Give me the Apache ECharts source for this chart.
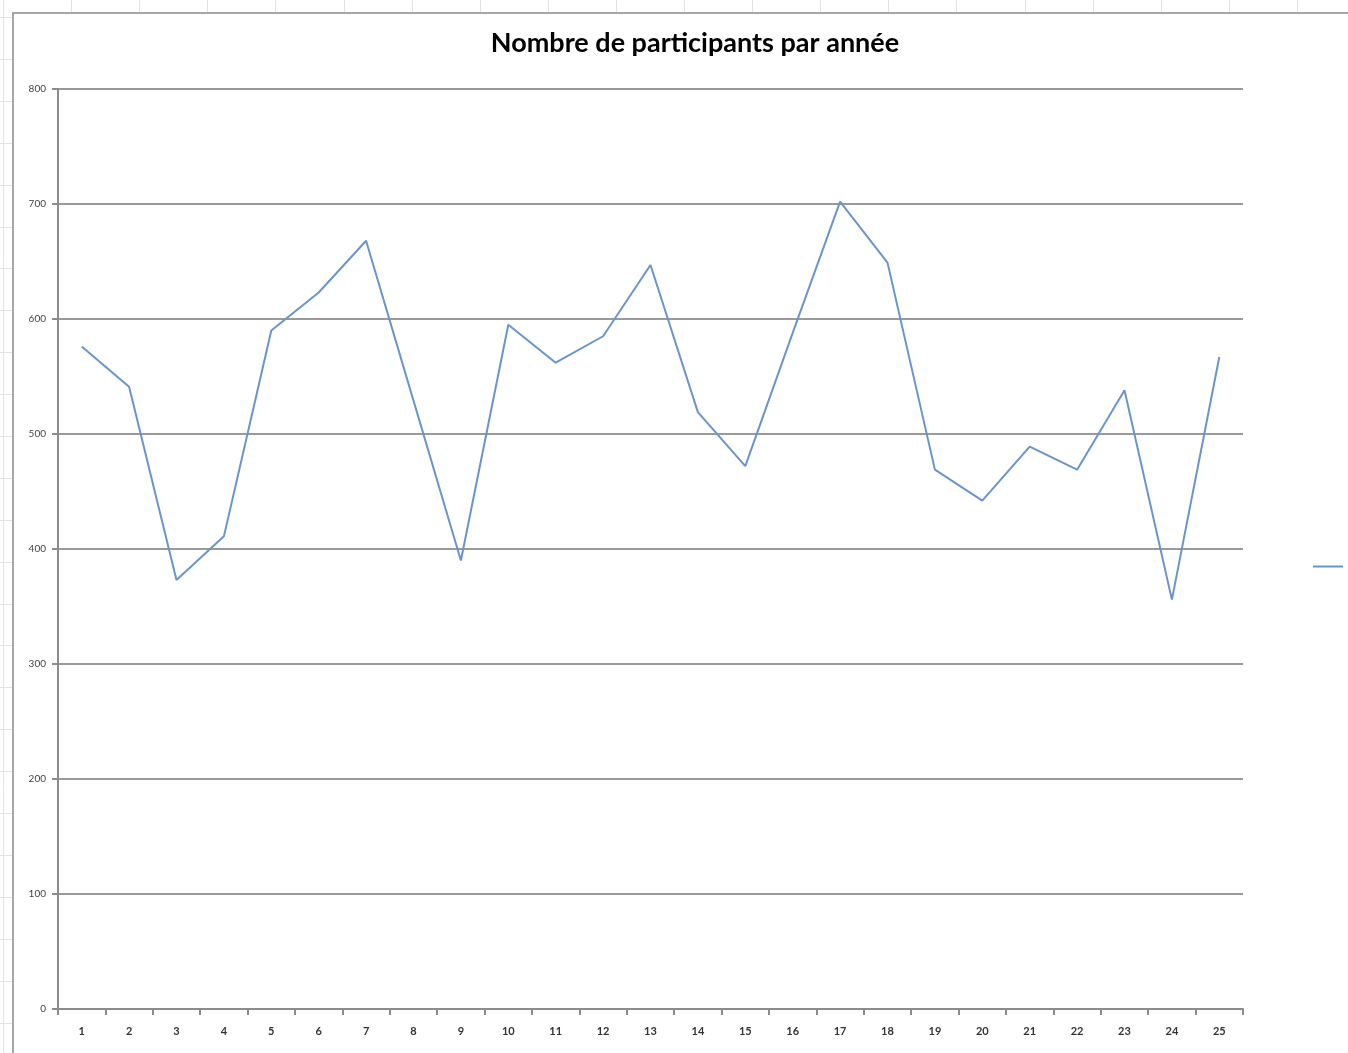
<!DOCTYPE html>
<html>
<head>
<meta charset="utf-8">
<script src="https://cdn.jsdelivr.net/npm/echarts@6/dist/echarts.min.js"></script>
<style>
html,body{margin:0;padding:0;background:#fff;}
#chart{width:1348px;height:1053px;}
</style>
</head>
<body>
<div id="chart"></div>
<script>
const titleText = "Nombre de participants par année";
const seriesName = "Série1";
const years = ["1","2","3","4","5","6","7","8","9","10","11","12","13","14","15","16","17","18","19","20","21","22","23","24","25"];
const participants = [576, 541, 373, 411, 590, 623, 668, 529, 390, 595, 562, 585, 647, 519, 472, 588, 702, 649, 469, 442, 489, 469, 538, 356, 567];
const yTicks = [0, 100, 200, 300, 400, 500, 600, 700, 800];

const chart = echarts.init(document.getElementById('chart'), null, {renderer: 'canvas'});

// spreadsheet cell grid behind the chart object (decoration)
const bg = [];
for (let x = 3; x < 1348; x += 68.1) {
  bg.push({type:'line', shape:{x1:Math.round(x)+0.5,y1:0,x2:Math.round(x)+0.5,y2:12}, style:{stroke:'#e3e3e3',lineWidth:1}, z:-10});
}
for (let y = 17; y < 1053; y += 41.9) {
  bg.push({type:'line', shape:{x1:0,y1:Math.round(y)+0.5,x2:12,y2:Math.round(y)+0.5}, style:{stroke:'#e3e3e3',lineWidth:1}, z:-10});
}
bg.push({type:'line', shape:{x1:3.5,y1:0,x2:3.5,y2:1053}, style:{stroke:'#e3e3e3',lineWidth:1}, z:-10});
bg.push({type:'rect', shape:{x:13,y:13,width:1400,height:1100}, style:{fill:'#fff',stroke:'#a6a6a6',lineWidth:2}, z:-5});

chart.setOption({
  animation: false,
  backgroundColor: '#fff',
  graphic: bg,
  title: {
    text: titleText,
    left: 690, textAlign: 'center', top: 25,
    textStyle: {fontFamily: 'Lato', fontWeight: 'bold', fontSize: 27, color: '#000'}
  },
  legend: {
    left: 1308, top: 556, itemWidth: 30, itemHeight: 10, itemGap: 5,
    icon: 'path://M0,4L30,4L30,6L0,6Z',
    textStyle: {fontSize: 11, color: '#555'},
    data: [seriesName]
  },
  grid: {left: 58, right: 105, top: 89, bottom: 44},
  xAxis: {
    type: 'category', data: years, boundaryGap: true,
    axisLine: {lineStyle: {color: '#8c8c8c', width: 2}},
    axisTick: {show: true, length: 6, lineStyle: {color: '#8c8c8c', width: 2}},
    axisLabel: {fontSize: 11, color: '#333', margin: 17, fontFamily: 'Lato', fontWeight: 'bold'},
    splitLine: {show: false}
  },
  yAxis: {
    type: 'value', min: yTicks[0], max: yTicks[yTicks.length-1], interval: 100,
    axisLine: {show: true, lineStyle: {color: '#8c8c8c', width: 2}},
    axisTick: {show: true, length: 6, lineStyle: {color: '#8c8c8c', width: 2}},
    axisLabel: {fontSize: 10, color: '#444', margin: 12, fontFamily: 'Lato'},
    splitLine: {lineStyle: {color: '#9a9a9a', width: 2}}
  },
  series: [{
    name: seriesName, type: 'line', data: participants,
    showSymbol: false, symbol: 'none',
    lineStyle: {color: '#6a95cc', width: 2},
    itemStyle: {color: '#6a95cc'}
  }]
});
</script>
</body>
</html>
